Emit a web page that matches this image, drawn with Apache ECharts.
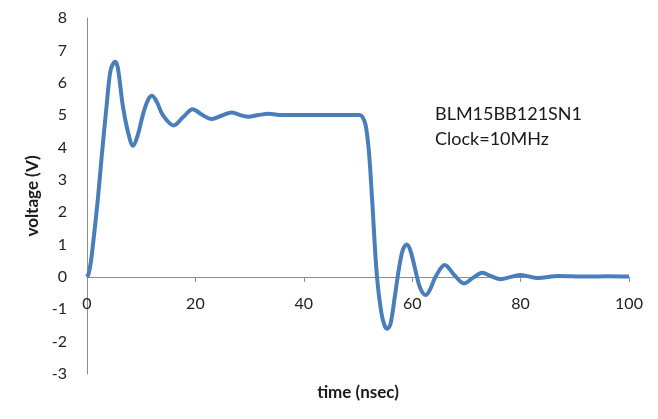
<!DOCTYPE html>
<html>
<head>
<meta charset="utf-8">
<script src="https://cdn.jsdelivr.net/npm/echarts@6/dist/echarts.min.js"></script>
<style>
html,body{margin:0;padding:0;background:#fff;}
#chart{width:658px;height:419px;}
</style>
</head>
<body>
<div id="chart"></div>
<script>
// time in nsec
var timeNs = [0, 0.3, 0.7, 1.2, 2.0, 2.7, 3.6, 4.25, 4.7, 5.2, 5.7, 6.6, 7.6, 8.5, 9.4, 10.3, 11.2, 12.0, 12.9, 14.0, 16.0, 17.8, 19.5, 21.3, 23.0, 24.8, 26.7, 28.3, 29.8, 31.6, 33.5, 36, 40, 45, 50.3, 50.8, 51.4, 52.0, 52.6, 53.5, 54.3, 54.9, 55.4, 56.0, 56.8, 57.6, 58.3, 59.0, 59.7, 60.6, 61.5, 62.5, 63.4, 64.3, 66.0, 67.8, 69.6, 71.2, 72.9, 74.6, 76.3, 78.2, 80, 83, 87, 92, 96, 100];
// voltage in V
var voltageV = [0, 0.1, 0.45, 1.15, 2.4, 3.7, 5.26, 6.3, 6.55, 6.65, 6.45, 5.3, 4.45, 4.05, 4.4, 5.0, 5.45, 5.6, 5.4, 5.0, 4.68, 4.95, 5.18, 5.0, 4.88, 4.98, 5.08, 5.0, 4.95, 5.0, 5.04, 5.0, 5.0, 5.0, 5.0, 4.95, 4.7, 3.9, 2.4, 0, -1.1, -1.5, -1.6, -1.45, -0.6, 0.3, 0.85, 1.0, 0.8, 0.2, -0.35, -0.56, -0.35, 0, 0.37, 0.05, -0.2, -0.03, 0.13, 0.02, -0.07, 0.0, 0.06, -0.03, 0.03, 0.01, 0.02, 0.01];
var xTicks = [0, 20, 40, 60, 80, 100];
var yTicks = [-3, -2, -1, 0, 1, 2, 3, 4, 5, 6, 7, 8];
var xTitle = 'time (nsec)';
var yTitle = 'voltage (V)';
var noteLines = ['BLM15BB121SN1', 'Clock=10MHz'];

var seriesData = timeNs.map(function (t, i) { return [t, voltageV[i]]; });

var chart = echarts.init(document.getElementById('chart'), null, {renderer: 'canvas'});
var font = 'Lato, "Open Sans", sans-serif';
var gridTop = 18, gridBottom = 45, H = 419;
var yMin = yTicks[0], yMax = yTicks[yTicks.length - 1];
// distance from grid bottom to the zero line (computed from axis range, not data)
var plotH = H - gridTop - gridBottom;
var zeroOffset = plotH * (0 - yMin) / (yMax - yMin);

chart.setOption({
  animation: false,
  backgroundColor: '#ffffff',
  grid: {left: 87, right: 29, top: gridTop, bottom: gridBottom, containLabel: false, outerBoundsMode: 'none'},
  xAxis: {
    type: 'value',
    position: 'bottom',
    offset: -zeroOffset,
    min: xTicks[0], max: xTicks[xTicks.length - 1], interval: 20,
    name: xTitle, nameLocation: 'middle', nameGap: 107,
    nameTextStyle: {fontFamily: font, fontSize: 17, fontWeight: 'bold', color: '#1a1a1a'},
    axisLine: {onZero: false, lineStyle: {color: '#8c8c8c', width: 1}},
    axisTick: {show: true, length: 5, inside: false, lineStyle: {color: '#8c8c8c'}},
    axisLabel: {fontFamily: font, fontSize: 16, color: '#222', margin: 19},
    splitLine: {show: false}
  },
  yAxis: {
    type: 'value',
    min: yMin, max: yMax, interval: 1,
    name: yTitle, nameLocation: 'middle', nameGap: 43, nameRotate: 90,
    nameTextStyle: {fontFamily: font, fontSize: 17, fontWeight: 'bold', color: '#1a1a1a'},
    axisLine: {show: true, onZero: false, lineStyle: {color: '#8c8c8c', width: 1}},
    axisTick: {show: false},
    axisLabel: {fontFamily: font, fontSize: 16, color: '#222', margin: 20},
    splitLine: {show: false}
  },
  graphic: [{
    type: 'text', left: 435, top: 102,
    style: {text: noteLines.join('\n'), fontFamily: font, fontSize: 18, lineHeight: 25, fill: '#1a1a1a'}
  }],
  series: [{
    type: 'line',
    data: seriesData,
    smooth: 0.35,
    showSymbol: false,
    lineStyle: {color: '#4a7ebb', width: 4},
    itemStyle: {color: '#4a7ebb'}
  }]
});
</script>
</body>
</html>
